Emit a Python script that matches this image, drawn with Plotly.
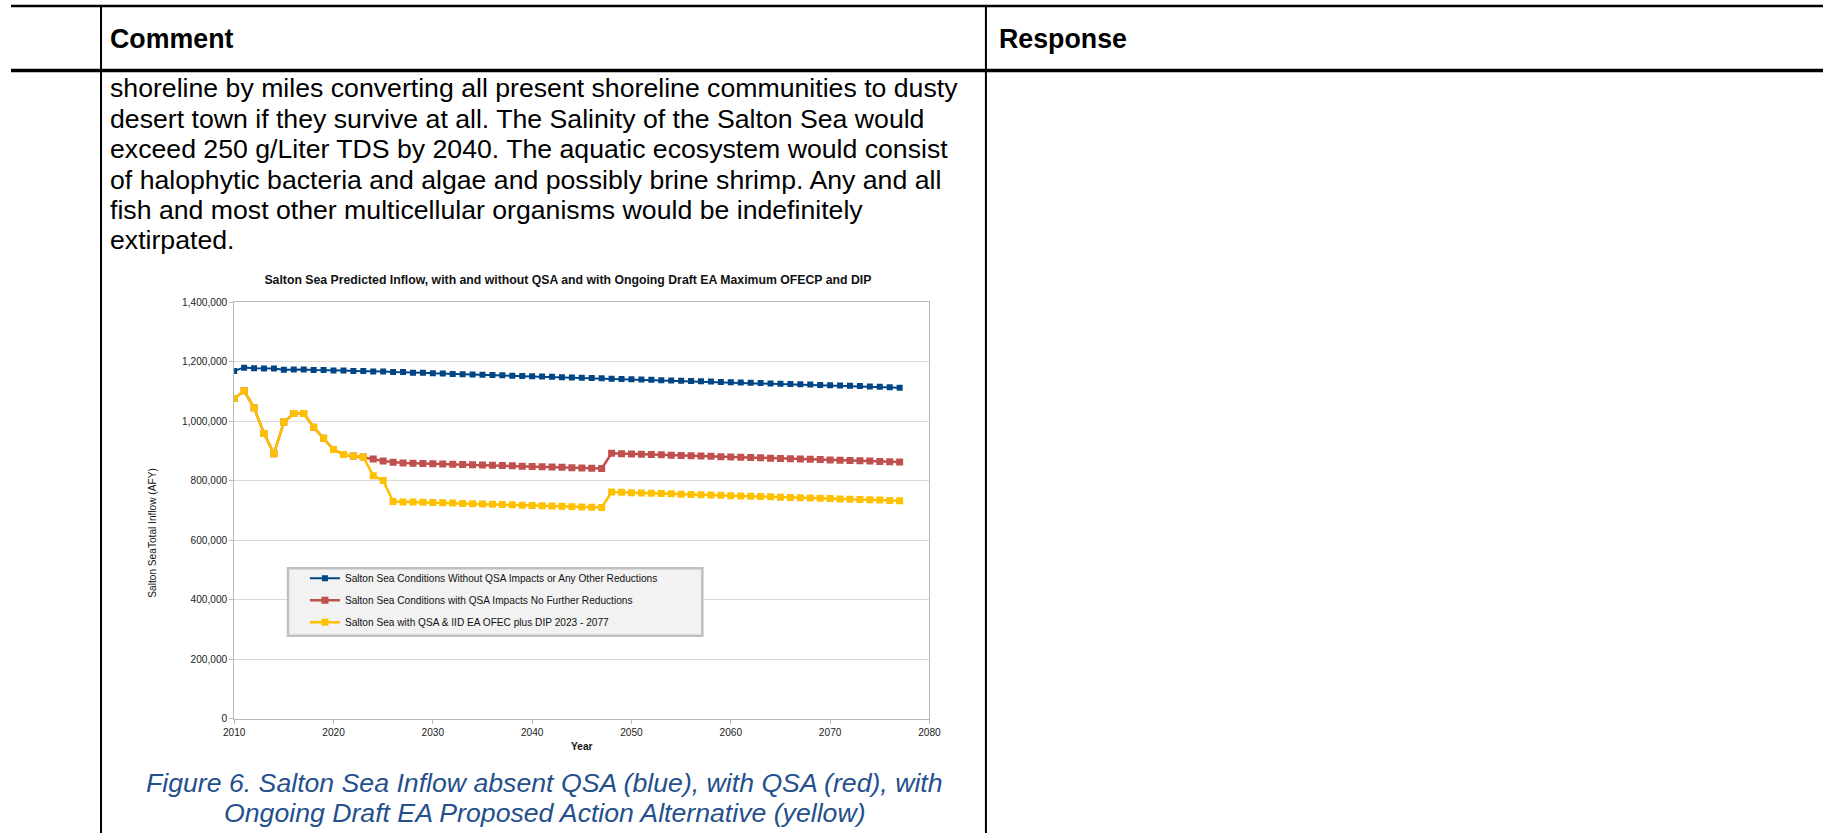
import plotly.graph_objects as go

# Figure size; the captured page adds an 8px body margin and is scaled to fit the window,
# so target (window) pixel positions are converted into figure paper coordinates below.
W, H = 1835, 839
MARGIN = 8
SX = W / (W + 2 * MARGIN)
SY = H / (H + 2 * MARGIN)
FS = 2 / (SX + SY)  # font compensation

years = list(range(2010, 2078))

blue_without_qsa = [
    1169000, 1180000, 1178000, 1177000, 1177000, 1173000, 1174000, 1174000, 1172000, 1172000,
    1170000, 1170000, 1169000, 1169000, 1167000, 1167000, 1165000, 1165000, 1163000, 1163000,
    1161000, 1160000, 1159000, 1158000, 1157000, 1156000, 1155000, 1154000, 1153000, 1152000,
    1151000, 1150000, 1149000, 1148000, 1147000, 1146000, 1145000, 1144000, 1143000, 1142000,
    1141000, 1140000, 1139000, 1138000, 1137000, 1136000, 1135000, 1134000, 1133000, 1132000,
    1131000, 1130000, 1129000, 1128000, 1127000, 1126000, 1125000, 1124000, 1123000, 1122000,
    1121000, 1120000, 1119000, 1118000, 1117000, 1116000, 1114000, 1112000,
]

red_with_qsa = [
    1076000, 1102000, 1045000, 959000, 891000, 997000, 1026000, 1026000, 980000, 943000,
    905000, 888000, 883000, 880000, 873000, 866000, 862000, 860000, 859000, 858000,
    857000, 856000, 855500, 855000, 854000, 853000, 852000, 851000, 850000, 849000,
    848000, 847000, 846000, 845000, 844000, 843000, 842000, 841000, 892000, 891000,
    890000, 889000, 888000, 887000, 886000, 885000, 884000, 883000, 882000, 881000,
    880000, 879000, 878000, 877000, 876000, 875000, 874000, 873000, 872000, 871000,
    870000, 869000, 868000, 867000, 866000, 865000, 864000, 863000,
]

yellow_ofec_dip = [
    1076000, 1102000, 1045000, 959000, 891000, 997000, 1026000, 1026000, 980000, 943000,
    905000, 888000, 883000, 880000, 817000, 801000, 730000, 729000, 728500, 728000,
    727000, 726000, 725000, 724000, 723000, 722000, 721000, 720000, 719000, 718000,
    717000, 716000, 715000, 714000, 713000, 712000, 711000, 710000, 762000, 761000,
    760000, 759000, 758000, 757000, 756000, 755000, 754000, 753000, 752000, 751000,
    750000, 749000, 748000, 747000, 746000, 745000, 744000, 743000, 742000, 741000,
    740000, 739000, 738000, 737000, 736000, 735000, 734000, 733000,
]

series_names = [
    "Salton Sea Conditions Without QSA Impacts or Any Other Reductions",
    "Salton Sea Conditions with QSA Impacts No Further Reductions",
    "Salton Sea with QSA & IID EA OFEC plus DIP 2023 - 2077",
]

chart_title = "Salton Sea Predicted Inflow, with and without QSA and with Ongoing Draft EA Maximum OFECP and DIP"
y_title = "Salton SeaTotal Inflow (AFY)"
x_title = "Year"

body_lines = [
    "shoreline by miles converting all present shoreline communities to dusty",
    "desert town if they survive at all. The Salinity of the Salton Sea would",
    "exceed 250 g/Liter TDS by 2040. The aquatic ecosystem would consist",
    "of halophytic bacteria and algae and possibly brine shrimp. Any and all",
    "fish and most other multicellular organisms would be indefinitely",
    "extirpated.",
]
caption_lines = [
    "Figure 6. Salton Sea Inflow absent QSA (blue), with QSA (red), with",
    "Ongoing Draft EA Proposed Action Alternative (yellow)",
]

FONT = "Liberation Sans, Arial, sans-serif"


def px(x):
    return (x / SX - MARGIN) / W


def py(y):
    return 1 - (y / SY - MARGIN) / H


def fs(s):
    return round(s * FS, 2)


fig = go.Figure()
styles = [("#004586", 6, 2), ("#C0504D", 7, 2.5), ("#FFC000", 7, 2.5)]
for i, (vals, (col, ms, lw)) in enumerate(zip([blue_without_qsa, red_with_qsa, yellow_ofec_dip], styles)):
    fig.add_trace(go.Scatter(
        x=years, y=vals, mode="lines+markers", name=series_names[i],
        legendgroup=f"g{i}",
        line=dict(color=col, width=lw),
        marker=dict(symbol="square", size=ms, color=col, line=dict(width=0)),
    ))

shapes = [
    # legend box
    dict(type="rect", xref="paper", yref="paper", x0=px(286), x1=px(702), y0=py(635), y1=py(568),
         fillcolor="#f2f2f2", line=dict(color="#c0c0c0", width=2.5), layer="above"),
    # page table lines
    dict(type="line", xref="paper", yref="paper", x0=0, x1=1, y0=1 - 1.0 / H, y1=1 - 1.0 / H,
         line=dict(color="black", width=2.5)),
    dict(type="line", xref="paper", yref="paper", x0=0, x1=1, y0=py(73), y1=py(73),
         line=dict(color="black", width=3.5)),
    dict(type="line", xref="paper", yref="paper", x0=px(98.3), x1=px(98.3), y0=1, y1=0,
         line=dict(color="black", width=2)),
    dict(type="line", xref="paper", yref="paper", x0=px(986.7), x1=px(986.7), y0=1, y1=0,
         line=dict(color="black", width=2)),
]

annotations = [
    dict(text="<b>Comment</b>", x=px(105), y=py(41.5), xref="paper", yref="paper",
         xanchor="left", yanchor="middle", showarrow=False,
         font=dict(family=FONT, size=fs(26.4), color="black")),
    dict(text="<b>Response</b>", x=px(998), y=py(41.5), xref="paper", yref="paper",
         xanchor="left", yanchor="middle", showarrow=False,
         font=dict(family=FONT, size=fs(26.4), color="black")),
    dict(text=y_title, x=px(150), y=py(533), xref="paper", yref="paper", textangle=-90,
         xanchor="center", yanchor="middle", showarrow=False,
         font=dict(family=FONT, size=fs(10), color="#111")),
]
body_y = [90.5, 120.8, 151.1, 181.4, 211.7, 242]
for t, yy in zip(body_lines, body_y):
    annotations.append(dict(text=t, x=px(105.5), y=py(yy), xref="paper", yref="paper",
                            xanchor="left", yanchor="middle", showarrow=False,
                            font=dict(family=FONT, size=fs(26.3), color="black")))
cap_y = [781, 811]
for t, yy in zip(caption_lines, cap_y):
    annotations.append(dict(text=f"<i>{t}</i>", x=px(544), y=py(yy), xref="paper", yref="paper",
                            xanchor="center", yanchor="middle", showarrow=False,
                            font=dict(family=FONT, size=fs(26.3), color="#24508C")))

fig.update_layout(
    width=W, height=H, autosize=False,
    margin=dict(l=0, r=0, t=0, b=0),
    paper_bgcolor="white", plot_bgcolor="white",
    font=dict(family=FONT, color="#111"),
    title=dict(text=f"<b>{chart_title}</b>", x=px(567), y=py(280.5), xref="paper", yref="paper",
               xanchor="center", yanchor="middle", font=dict(family=FONT, size=fs(12.1), color="#111")),
    xaxis=dict(domain=[px(232), px(930)], range=[2010, 2080], tick0=2010, dtick=10,
               showgrid=False, zeroline=False, showline=True, mirror=True,
               linecolor="#b8b8b8", linewidth=1, ticks="outside", ticklen=4, tickcolor="#b8b8b8",
               tickfont=dict(family=FONT, size=fs(10), color="#222"),
               title=dict(text=f"<b>{x_title}</b>", standoff=5,
                          font=dict(family=FONT, size=fs(10), color="#111"))),
    yaxis=dict(domain=[py(717.7), py(303.3)], range=[0, 1400000], dtick=200000, tickformat=",d",
               showgrid=True, gridcolor="#dadada", gridwidth=1, zeroline=False,
               showline=True, mirror=True, linecolor="#b8b8b8", linewidth=1,
               ticks="outside", ticklen=4, tickcolor="#b8b8b8",
               tickfont=dict(family=FONT, size=fs(10), color="#222")),
    legend=dict(x=px(303), y=py(563.5), xanchor="left", yanchor="top", bgcolor="rgba(0,0,0,0)",
                borderwidth=0, font=dict(family=FONT, size=fs(10), color="#111"),
                traceorder="grouped", tracegroupgap=3, itemwidth=30),
    shapes=shapes,
    annotations=annotations,
    showlegend=True,
)

fig.write_html("out.html")
